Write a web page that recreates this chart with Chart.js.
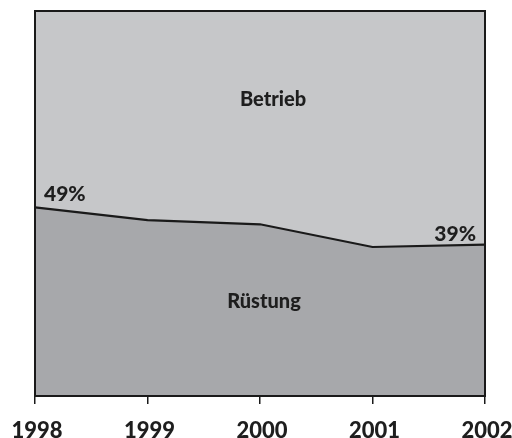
<!DOCTYPE html>
<html>
<head>
<meta charset="utf-8">
<script src="https://cdn.jsdelivr.net/npm/chart.js@4"></script>
<style>
  html, body { margin: 0; padding: 0; background: #fff; overflow: hidden; }
  #wrap { width: 512px; height: 438px; }
</style>
</head>
<body>
<div id="wrap"><canvas id="myChart"></canvas></div>
<script>
const jahre = ['1998', '1999', '2000', '2001', '2002'];
const ruestung = [49, 45.7, 44.6, 38.7, 39.3];
const betrieb = [51, 54.3, 55.4, 61.3, 60.7];
const prozentLabels = ['49%', '', '', '', '39%'];

const dunkel = '#a7a8ab';
const hell = '#c6c7c9';
const schrift = '"Lato", "DejaVu Sans", sans-serif';

// Rahmen, Jahreszahlen und Beschriftungen im Diagramm
const beschriftung = {
  id: 'beschriftung',
  afterDatasetsDraw(chart) {
    const ctx = chart.ctx;
    const a = chart.chartArea;
    const x = chart.scales.x;
    const y = chart.scales.y;
    ctx.save();
    ctx.strokeStyle = '#1a1a1a';
    ctx.lineWidth = 2;
    ctx.strokeRect(a.left, a.top, a.right - a.left, a.bottom - a.top);

    ctx.fillStyle = '#1e1e1e';
    ctx.textBaseline = 'middle';
    ctx.font = '900 20px ' + schrift;
    ctx.textAlign = 'center';
    ctx.fillText('Betrieb', x.getPixelForValue(2) + 13, y.getPixelForValue(77));
    ctx.fillText('Rüstung', x.getPixelForValue(2) + 4, y.getPixelForValue(24.6));

    ctx.font = '900 21px ' + schrift;
    ctx.textAlign = 'left';
    ctx.fillText(prozentLabels[0], x.getPixelForValue(0) + 9, y.getPixelForValue(ruestung[0]) - 13);
    ctx.textAlign = 'right';
    ctx.fillText(prozentLabels[4], x.getPixelForValue(4) - 9, y.getPixelForValue(ruestung[4]) - 10);

    ctx.font = '900 22px ' + schrift;
    ctx.textAlign = 'center';
    jahre.forEach((j, i) => {
      ctx.fillText(j, x.getPixelForValue(i) + 2, a.bottom + 35);
    });
    ctx.restore();
  }
};

const ctx = document.getElementById('myChart');
new Chart(ctx, {
  type: 'line',
  data: {
    labels: jahre,
    datasets: [{
      label: 'Rüstung',
      data: ruestung,
      fill: 'origin',
      backgroundColor: dunkel,
      borderColor: '#1a1a1a',
      borderWidth: 2.2,
      pointRadius: 0,
      tension: 0
    }, {
      label: 'Betrieb',
      data: betrieb,
      fill: '-1',
      backgroundColor: hell,
      borderWidth: 0,
      borderColor: hell,
      pointRadius: 0,
      tension: 0
    }]
  },
  options: {
    responsive: true,
    maintainAspectRatio: false,
    animation: false,
    layout: { padding: { left: 35, right: 27, top: 11, bottom: 34 } },
    plugins: {
      legend: { display: false },
      tooltip: { enabled: false }
    },
    scales: {
      x: {
        offset: false,
        grid: {
          drawOnChartArea: false,
          drawTicks: true,
          tickLength: 8,
          color: '#1a1a1a',
          lineWidth: 1.5
        },
        border: { display: false },
        ticks: { display: false }
      },
      y: {
        display: false,
        stacked: true,
        min: 0,
        max: 100
      }
    }
  },
  plugins: [beschriftung]
});
</script>
</body>
</html>
